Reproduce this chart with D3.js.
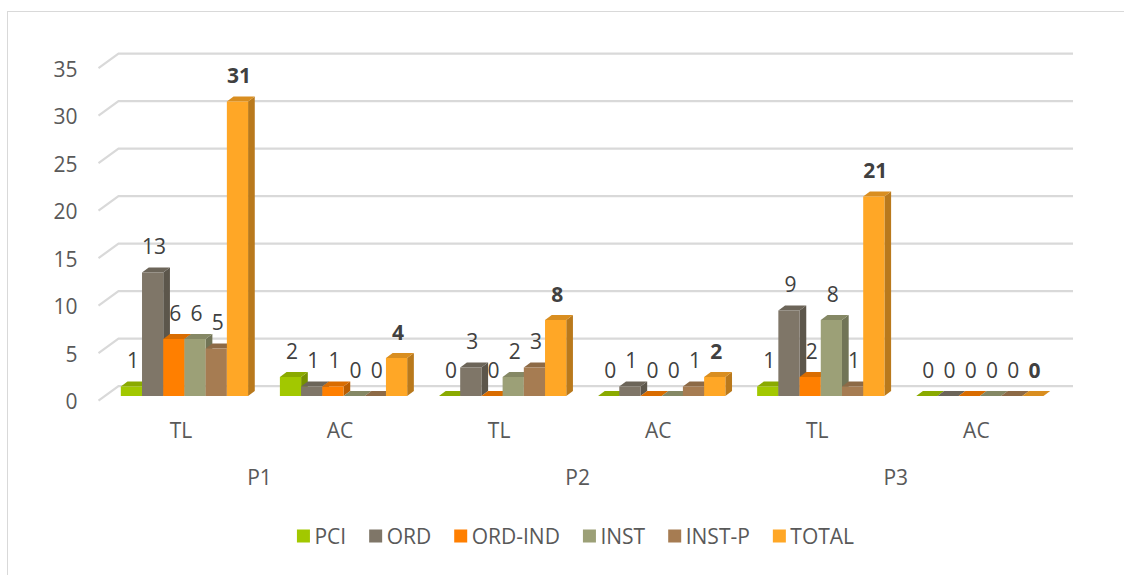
<!DOCTYPE html>
<html>
<head>
<meta charset="utf-8">
<script src="https://cdn.jsdelivr.net/npm/d3@7"></script>
<style>
  body { margin: 0; background: #fff; }
  svg { font-family: "Open Sans", sans-serif; }
</style>
</head>
<body>
<svg width="1124" height="575"></svg>
<script>
const width = 1124;
const height = 575;
const fontSize = 21;

// Data
const groups = ['P1', 'P2', 'P3'];
const categories = ['TL', 'AC', 'TL', 'AC', 'TL', 'AC'];
const series = ['PCI', 'ORD', 'ORD-IND', 'INST', 'INST-P', 'TOTAL'];
const pci = [1, 2, 0, 0, 1, 0];
const ord = [13, 1, 3, 1, 9, 0];
const ordInd = [6, 1, 0, 0, 2, 0];
const inst = [6, 0, 2, 0, 8, 0];
const instP = [5, 0, 3, 1, 1, 0];
const total = [31, 4, 8, 2, 21, 0];
const yTicks = [0, 5, 10, 15, 20, 25, 30, 35];

const values = [pci, ord, ordInd, inst, instP, total];
const colors = ['#a2c800', '#7f7668', '#ff7f00', '#9ca077', '#a67c52', '#ffa726'];

// 3D look: floor depth and bar depth offsets
const floorDx = 20, floorDy = -14.5;
const frac = 0.32;             // where the bars sit inside the floor depth
const barDx = 6.7, barDy = -5;

const svg = d3.select('svg');

// Outer border (right and bottom edges fall outside the picture)
svg.append('rect')
    .attr('x', 7.5).attr('y', 11.5)
    .attr('width', width).attr('height', height)
    .attr('fill', 'none')
    .attr('stroke', '#d9d9d9');

const frontLeft = 98.5, frontRight = 1053;
const xScale = d3.scaleBand()
    .domain(d3.range(categories.length))
    .range([frontLeft + floorDx * frac, frontRight + floorDx * frac])
    .paddingInner(0.2)
    .paddingOuter(0.1);

const xSeries = d3.scaleBand()
    .domain(series)
    .range([0, xScale.bandwidth()]);

const yScale = d3.scaleLinear()
    .domain([0, 35])
    .range([396, 63.5]);

// Gridlines: slant on the left wall, then along the back wall
const grid = svg.append('g')
    .attr('stroke', '#d9d9d9')
    .attr('stroke-width', 2.2)
    .attr('fill', 'none');

grid.selectAll('path')
    .data(yTicks)
    .enter().append('path')
    .attr('d', d => {
        const yf = yScale(d) - floorDy * frac;
        const yb = yf + floorDy;
        return `M${frontLeft},${yf}L${frontLeft + floorDx},${yb}L${frontRight + floorDx},${yb}`;
    });

// Y axis labels
const yAxis = d3.axisLeft(yScale)
    .tickValues(yTicks)
    .tickSize(0)
    .tickPadding(0);

svg.append('g')
    .attr('transform', 'translate(77.5, 6)')
    .call(yAxis)
    .call(g => g.select('.domain').remove())
    .selectAll('text')
    .attr('font-size', fontSize)
    .attr('font-family', '"Open Sans", sans-serif')
    .attr('fill', '#595959');

// Bars, drawn left to right so each front covers the side before it
const bars = [];
categories.forEach((c, i) => {
    series.forEach((s, j) => {
        bars.push({ cat: i, name: s, value: values[j][i], color: colors[j] });
    });
});

const barG = svg.append('g');

bars.forEach(d => {
    const x0 = xScale(d.cat) + xSeries(d.name);
    const x1 = x0 + xSeries.bandwidth();
    const yt = yScale(d.value);
    const yb = yScale(0);
    const base = d3.color(d.color);
    const g = barG.append('g');

    g.append('path')
        .attr('d', `M${x1},${yt}L${x1 + barDx},${yt + barDy}L${x1 + barDx},${yb + barDy}L${x1},${yb}Z`)
        .attr('fill', base.darker(0.9));
    g.append('path')
        .attr('d', `M${x0},${yt}L${x0 + barDx},${yt + barDy}L${x1 + barDx},${yt + barDy}L${x1},${yt}Z`)
        .attr('fill', base.darker(0.45));
    if (d.value > 0) {
        g.append('rect')
            .attr('x', x0).attr('y', yt)
            .attr('width', x1 - x0).attr('height', yb - yt)
            .attr('fill', base);
    }
});

// Value labels
svg.append('g')
    .selectAll('text')
    .data(bars)
    .enter().append('text')
    .attr('x', d => xScale(d.cat) + xSeries(d.name) + xSeries.bandwidth() / 2 + 1.5)
    .attr('y', d => yScale(d.value) - 18.5)
    .attr('text-anchor', 'middle')
    .attr('font-size', fontSize)
    .attr('font-weight', d => d.name === 'TOTAL' ? 'bold' : 'normal')
    .attr('fill', '#404040')
    .text(d => d.value);

// Category axis
const xAxis = d3.axisBottom(xScale)
    .tickSize(0)
    .tickPadding(0)
    .tickFormat(i => categories[i]);

svg.append('g')
    .attr('transform', 'translate(-3.5, 423.1)')
    .call(xAxis)
    .call(g => g.select('.domain').remove())
    .selectAll('text')
    .attr('font-size', fontSize)
    .attr('font-family', '"Open Sans", sans-serif')
    .attr('fill', '#595959');

// Group labels
svg.append('g')
    .selectAll('text')
    .data(groups)
    .enter().append('text')
    .attr('x', (d, i) => (xScale(i * 2) + xScale(i * 2 + 1) + xScale.bandwidth()) / 2 - 4.5)
    .attr('y', 485)
    .attr('text-anchor', 'middle')
    .attr('font-size', fontSize)
    .attr('fill', '#595959')
    .text(d => d);

// Legend
const legend = svg.append('g');
const items = legend.selectAll('g')
    .data(series)
    .enter().append('g');

items.append('rect')
    .attr('width', 13).attr('height', 13)
    .attr('y', 529.5)
    .attr('fill', (d, i) => colors[i]);

items.append('text')
    .attr('x', 17.5)
    .attr('y', 543.5)
    .attr('font-size', fontSize)
    .attr('fill', '#595959')
    .text(d => d);

let offset = 0;
const widths = [];
items.each(function () {
    const w = 17.5 + d3.select(this).select('text').node().getComputedTextLength();
    widths.push(w);
});
const totalWidth = d3.sum(widths) + 23 * (widths.length - 1);
offset = 575.5 - totalWidth / 2;
items.attr('transform', (d, i) => {
    const x = offset;
    offset += widths[i] + 23;
    return `translate(${x},0)`;
});
</script>
</body>
</html>
